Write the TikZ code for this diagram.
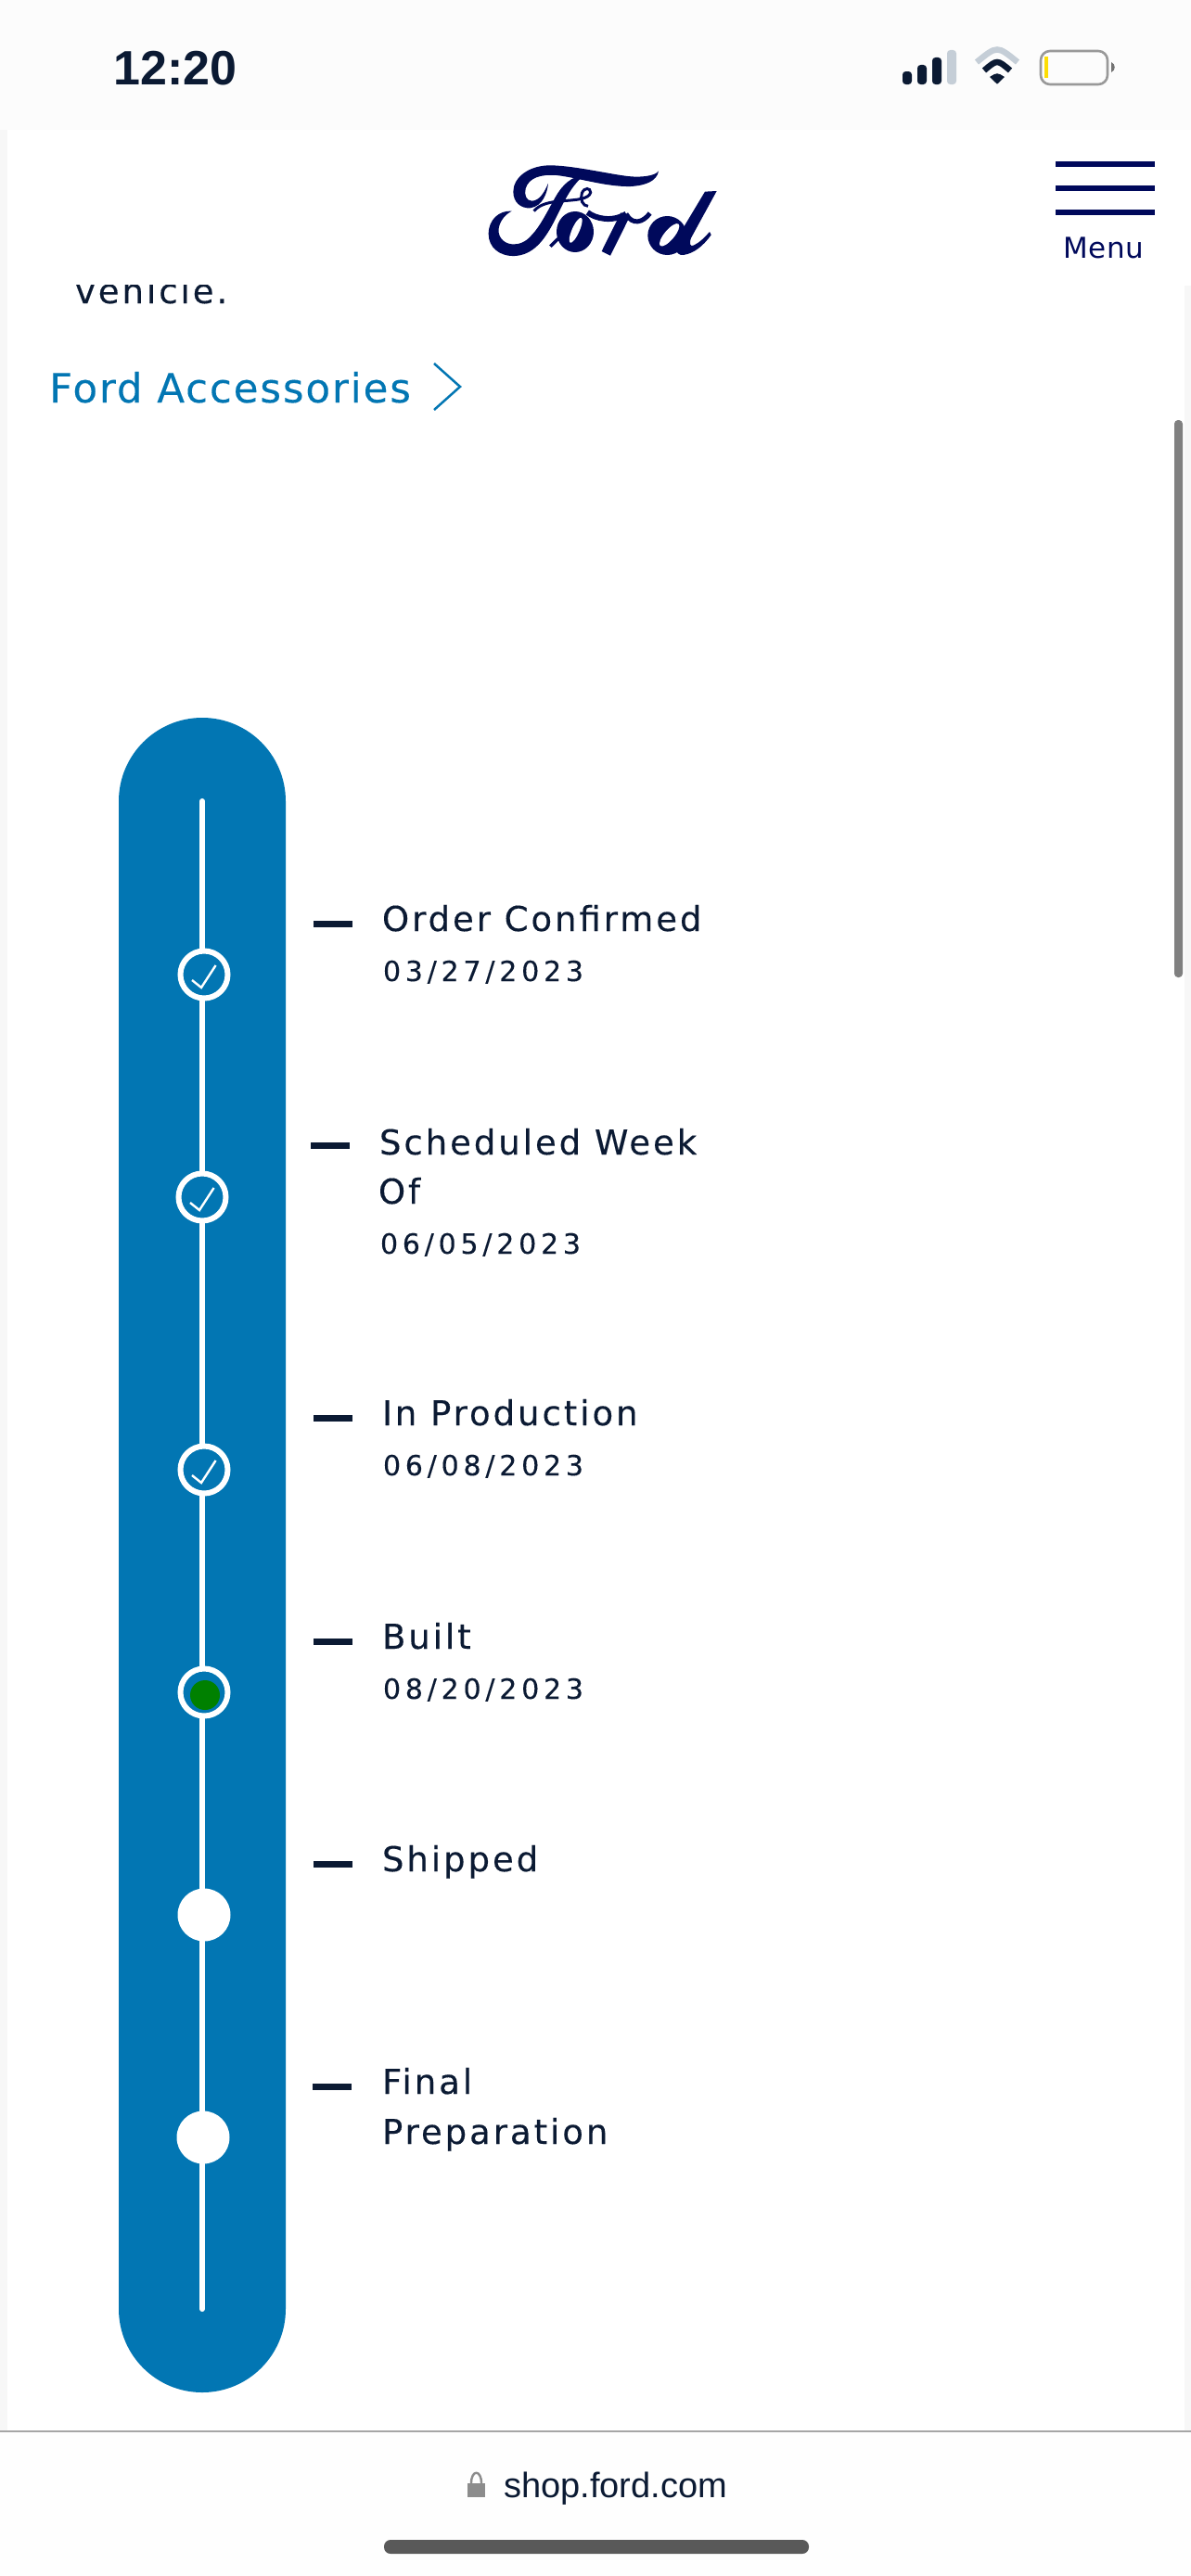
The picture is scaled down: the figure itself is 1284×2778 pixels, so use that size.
\documentclass[tikz,border=0pt]{standalone}
\usepackage{fontspec}
\setmainfont{DejaVu Sans}
\newfontfamily\labfont[LetterSpace=8,FakeBold=0.25]{DejaVu Sans}
\newfontfamily\datefont[LetterSpace=16,FakeBold=0.15]{DejaVu Sans}
\newfontfamily\linkfont[LetterSpace=4.3,FakeBold=0.15]{DejaVu Sans}
\newfontfamily\menufont[LetterSpace=2.5]{DejaVu Sans}
\newfontfamily\timefont{Liberation Sans}
\newfontfamily\urlfont{Liberation Sans}
\definecolor{fordblue}{HTML}{0276B3}
\definecolor{fordnavy}{HTML}{00095B}
\definecolor{inkdark}{HTML}{0B1A33}
\definecolor{edgegray}{HTML}{F7F7F7}
\definecolor{iconlight}{HTML}{C5CED7}
\definecolor{chromegreen}{HTML}{008000}
\tikzset{
  lab/.style={anchor=base west,inner sep=0pt,outer sep=0pt,text=inkdark,font=\labfont\fontsize{37}{37}\selectfont},
  datelab/.style={anchor=base west,inner sep=0pt,outer sep=0pt,text=inkdark,font=\datefont\fontsize{30}{30}\selectfont},
  ring/.style={circle,draw=white,line width=6pt,fill=fordblue,minimum size=51pt,inner sep=0pt},
  solidstop/.style={circle,fill=white,minimum size=57pt,inner sep=0pt},
  checkmark/.style={draw=white,line width=2.4pt,line join=miter},
  dashmark/.style={draw=inkdark,line width=7pt},
  barmark/.style={draw=fordnavy,line width=6pt},
}
\begin{document}
\begin{tikzpicture}[x=1pt,y=-1pt]
\useasboundingbox (0,0) rectangle (1284,2778);
\fill[white] (0,0) rectangle (1284,2778);
% chrome
\fill[edgegray] (0,140) rectangle (8,2621);
\fill[edgegray] (1277,308) rectangle (1284,2621);
\fill[black!1] (0,0) rectangle (1284,140);
\fill[black!0.5] (0,2623) rectangle (1284,2778);
\draw[color=black!35,line width=1.5pt] (0,2622) -- (1284,2622);
% status bar
\node[anchor=base west,inner sep=0pt,text=inkdark,font=\timefont\bfseries\fontsize{52}{52}\selectfont] (clock) at (122,92) {12:20};
\fill[inkdark,rounded corners=3.5pt] (973,77) rectangle (983,91);
\fill[inkdark,rounded corners=3.5pt] (989,70) rectangle (999,91);
\fill[inkdark,rounded corners=3.5pt] (1005,62) rectangle (1015,91);
\fill[iconlight,rounded corners=3.5pt] (1021,54) rectangle (1031,91);
\draw[iconlight,line width=6.5pt] (1053,67) .. controls (1075,49) .. (1097,67);
\draw[inkdark,line width=6.5pt] (1061,76) .. controls (1075,64) .. (1089,76);
\fill[inkdark] (1075,90.7) -- (1067,83) .. controls (1075,78) .. (1083,83) -- cycle;
\draw[color=black!40,line width=2.6pt,rounded corners=10pt] (1122,55) rectangle (1194,91);
\fill[yellow!80!orange] (1126,61) rectangle (1130,84);
\fill[black!55] (1198,67) .. controls (1203,69) and (1203,76) .. (1198,78) -- cycle;
% header
\begin{scope}[shift={(510,165)},x=0.33333pt,y=-0.33333pt]
\fill[fordnavy] (600,58) .. controls (590,75) and (540,80) .. (500,75) .. controls (440,68) and (330,42) .. (255,40) .. controls (180,38) and (130,80) .. (130,125) .. controls (130,160) and (155,180) .. (185,178) .. controls (225,172) and (240,130) .. (243,98) .. controls (232,125) and (215,155) .. (190,155) .. controls (172,155) and (165,135) .. (170,115) .. controls (180,80) and (220,68) .. (270,72) .. controls (340,80) and (430,110) .. (510,108) .. controls (560,105) and (595,90) .. (600,58) -- cycle;
\fill[fordnavy] (360,72) .. controls (320,75) and (290,100) .. (265,145) .. controls (240,190) and (215,240) .. (190,265) .. controls (170,290) and (145,297) .. (125,295) .. controls (95,292) and (75,265) .. (85,235) .. controls (92,212) and (110,195) .. (125,188) .. controls (85,185) and (50,215) .. (50,262) .. controls (50,305) and (85,335) .. (135,333) .. controls (195,330) and (230,280) .. (255,235) .. controls (285,180) and (310,110) .. (360,72) -- cycle;
\draw[fordnavy,line width=3pt] (197,188) .. controls (215,165) and (250,158) .. (290,155) .. controls (330,152) and (375,150) .. (380,128) .. controls (380,112) and (360,110) .. (352,130) .. controls (345,150) and (355,172) .. (372,172);
\draw[fordnavy,line width=3.5pt] (250,302) -- (285,268);
\fill[fordnavy] (330,255) ellipse [x radius=60,y radius=66];
\fill[white,rotate around={-24:(332,250)}] (332,250) ellipse [x radius=12,y radius=44];
\draw[fordnavy,line width=6pt] (370,192) .. controls (395,212) and (450,225) .. (495,197);
\draw[fordnavy,line width=5pt] (495,197) .. controls (515,235) and (550,225) .. (572,195);
\draw[fordnavy,line width=10.5pt] (492,200) -- (430,325);
\fill[fordnavy] (628,267) ellipse [x radius=63,y radius=63];
\fill[white,rotate around={-40:(635,265)}] (635,265) ellipse [x radius=16,y radius=46];
\fill[fordnavy] (750,125) -- (788,123) -- (705,275) .. controls (698,295) and (703,305) .. (715,298) .. controls (735,288) and (750,272) .. (765,255) -- (770,265) .. controls (745,300) and (715,325) .. (680,330) .. controls (655,332) and (650,305) .. (660,275) -- cycle;
\end{scope}
\coordinate (burgerA) at (1138,177);
\coordinate (burgerB) at (1245,177);
\draw[barmark] (burgerA) -- (burgerB);
\draw[barmark] (1138,203) -- (1245,203);
\draw[barmark] (1138,229) -- (1245,229);
\node[anchor=base west,inner sep=0pt,text=fordnavy,font=\menufont\fontsize{31}{32}\selectfont] (menu) at (1146,278) {Menu};
\begin{scope}
\clip (0,307) rectangle (1284,345);
\node[lab] (vehicle) at (81,327) {vehicle.};
\end{scope}
\node[anchor=base west,inner sep=0pt,text=fordblue,font=\linkfont\fontsize{43.5}{44}\selectfont] (acc) at (53,434) {Ford Accessories};
\draw[fordblue,line width=2.5pt] (468,392) -- (496,417) -- (468,442);
\fill[color=black!50,rounded corners=4pt] (1266,453) rectangle (1275,1054);
% timeline
\fill[fordblue,rounded corners=90pt] (128,774) rectangle (308,2580);
\coordinate (railtop) at (218,864);
\coordinate (railbot) at (218,2490);
\draw[white,line width=6pt,line cap=round] (railtop) -- (railbot);
\node[ring] (s1) at (220,1051) {};
\node[ring] (s2) at (218,1291) {};
\node[ring] (s3) at (220,1585) {};
\node[ring] (s4) at (220,1825) {};
\node[solidstop] (s5) at (220,2065) {};
\node[solidstop] (s6) at (219,2305) {};
\foreach \c in {s1,s2,s3}
  \draw[checkmark] ([shift={(-13,6)}]\c.center) -- ([shift={(-3,14)}]\c.center) -- ([shift={(12.6,-10)}]\c.center);
\fill[chromegreen] (221,1828) circle [radius=16];
% dashes
\foreach \y/\xa/\xb in {996/338/380,1235/335/377,1529/338/380,1770/338/380,2010/338/380,2250/337/379}
  \draw[dashmark] (\xa,\y) -- (\xb,\y);
% labels
\node[lab] (l1) at (412,1004) {Order Confirmed};
\node[datelab] (d1) at (413,1058) {03/27/2023};
\node[lab] (l2) at (409,1245) {Scheduled Week};
\node[lab] (l2b) at (408,1298) {Of};
\node[datelab] (d2) at (410,1352) {06/05/2023};
\node[lab] (l3) at (412,1537) {In Production};
\node[datelab] (d3) at (413,1591) {06/08/2023};
\node[lab] (l4) at (412,1778) {Built};
\node[datelab] (d4) at (413,1832) {08/20/2023};
\node[lab] (l5) at (412,2018) {Shipped};
\node[lab] (l6) at (412,2258) {Final};
\node[lab] (l6b) at (412,2312) {Preparation};
% bottom bar
\fill[black!45] (504,2678) rectangle (523,2693);
\draw[black!45,line width=2.4pt] (508,2678) .. controls (508,2663) and (519,2663) .. (519,2678);
\node[anchor=base west,inner sep=0pt,text=inkdark,font=\urlfont\fontsize{38}{38}\selectfont] (url) at (543,2693) {shop.ford.com};
\fill[black!65,rounded corners=7pt] (414,2739) rectangle (872,2754);
\end{tikzpicture}
\end{document}
